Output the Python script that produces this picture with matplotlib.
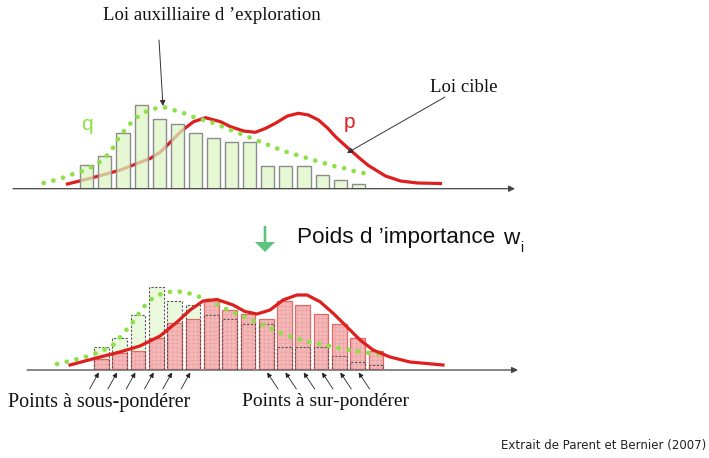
import matplotlib.pyplot as plt
from matplotlib.patches import FancyArrow

W, H = 709, 458

# histogram of draws from the exploration law q (16 bins)
q_bars = [23.5, 32.5, 55.5, 83.5, 69.5, 65, 55.5, 51, 46.5, 46.5, 23, 23, 23, 14, 8.5, 5]
# same bins after importance weighting
w_bars = [11, 17.5, 19, 32.5, 47, 51.5, 70.5, 60.5, 56, 51, 69, 65, 56, 46.5, 32, 19]

# curves (x in bin units, height)
q_top_x = [-2.38, -1.73, -1.18, -0.62, -0.07, 0.48, 0.92, 1.31, 1.59, 1.86, 2.25, 2.58, 3.08,
           3.63, 4.24, 4.79, 5.34, 5.90, 6.45, 7.00, 7.55, 8.10, 8.66, 9.21, 9.76, 10.31,
           10.87, 11.42, 11.97, 12.52, 13.08, 13.63, 14.18, 14.73, 15.29, 15.67]
q_top_h = [5.7, 8.7, 11.7, 15.7, 18.7, 23.7, 29.7, 36.7, 45.7, 53.7, 61.7, 68.7, 75.7,
           79.7, 81.7, 78.7, 75.7, 71.7, 68.7, 65.7, 61.7, 57.7, 53.7, 49.7, 45.7, 41.7,
           37.7, 34.7, 31.7, 28.7, 25.7, 22.7, 20.7, 17.7, 15.7, 14.7]
p_top_x = [-1.07, 0.20, 1.86, 3.52, 4.07, 4.46, 5.18, 5.90, 6.56, 7.39, 7.94, 8.66, 9.31,
           9.86, 10.42, 11.08, 11.69, 12.24, 12.80, 13.30, 13.74, 14.18, 14.66, 15.12,
           15.56, 16.50, 17.33, 18.27, 19.54]
p_top_h = [4.7, 10.4, 18.7, 30.4, 36.7, 43.7, 57, 67, 71, 67, 62, 57.7, 56.4,
           60.2, 65.4, 72.7, 75.4, 73.7, 68.7, 60.7, 52, 44.7, 37, 29.7,
           23.2, 12.7, 7.7, 5.7, 5.2]
q_bot_x = [-2.43, -1.72, -0.90, -0.08, 0.63, 1.17, 1.72, 2.21, 2.65, 3.36, 4.02, 4.73, 5.38,
           6.04, 6.58, 7.19, 8.01, 8.83, 9.59, 10.46, 11.28, 12.21, 13.03, 13.90, 14.78, 15.65]
q_bot_h = [6, 9, 13, 18, 25, 36, 48, 61, 70, 77, 79, 77, 73,
           68, 63, 58, 51.5, 45, 38.3, 32.7, 28.3, 25, 21.7, 19, 16.7, 15]
p_bot_x = [-1.72, -0.90, -0.08, 1.01, 2.10, 3.20, 4.13, 4.84, 5.55, 6.31, 7.19, 7.84, 8.50,
           9.21, 9.92, 10.68, 11.23, 11.94, 12.66, 13.42, 14.13, 14.84, 15.77, 16.86, 18.66]
p_bot_h = [5, 9, 13, 18, 24, 34, 48, 60, 69, 70.5, 65, 58.5, 56,
           60, 70, 75, 75, 68.3, 56.7, 43, 30, 20, 13, 8, 5]

under_bins = [0, 1, 2, 3, 4, 5]
over_bins = [9, 10, 11, 12, 13, 14]

RED = '#de1f1f'
GREEN = '#8ee04a'
serif = 'Liberation Serif'

plt.rcParams['hatch.linewidth'] = 0.3

fig = plt.figure(figsize=(W / 100, H / 100), dpi=100)


def panel(x0, x1, base, center0, pitch):
    ax = fig.add_axes([x0 / W, (H - base) / H, (x1 - x0) / W, 110 / H])
    ax.set_xlim((x0 - center0) / pitch, (x1 - center0) / pitch)
    ax.set_ylim(0, 110)
    ax.axis('off')
    ax.annotate('', xy=(ax.get_xlim()[1], 0), xytext=(ax.get_xlim()[0], 0),
                arrowprops=dict(arrowstyle='-|>', color='#444444', lw=0.9,
                                mutation_scale=9, shrinkA=0, shrinkB=0),
                annotation_clip=False)
    return ax


def dotted(ax, x, y, z):
    ax.plot(x, y, color=GREEN, lw=3.4, linestyle=(0, (0.01, 2.1)),
            dash_capstyle='round', zorder=z, clip_on=False)


bins = list(range(len(q_bars)))

# ---- top: samples from q
ax1 = panel(13, 515, 188.7, 86.8, 18.1)
ax1.plot(p_top_x, p_top_h, color=RED, lw=2.3, zorder=1, clip_on=False)
ax1.bar(bins, q_bars, width=0.72, color=(0.86, 0.96, 0.76, 0.72),
        edgecolor='#8c8c8c', lw=1.0, zorder=2)
dotted(ax1, q_top_x, q_top_h, 3)

# ---- bottom: weighted samples
ax2 = panel(27, 518, 370, 101.5, 18.3)
ax2.bar(bins, q_bars, width=0.8, color='#eaf8dc', lw=0, zorder=1)
ax2.bar(bins, w_bars, width=0.8, color='#f4b8b8', edgecolor='#e89898',
        hatch='++++', lw=0, zorder=2)
ax2.bar(bins, w_bars, width=0.8, fill=False, edgecolor='#e06a6a', lw=0.9, zorder=3)
ax2.bar(bins, q_bars, width=0.8, fill=False, edgecolor='#555555', lw=0.8,
        linestyle=(0, (2, 1.5)), zorder=4)
dotted(ax2, q_bot_x, q_bot_h, 5)
ax2.plot(p_bot_x, p_bot_h, color=RED, lw=2.3, zorder=6, clip_on=False)

small_arrow = dict(arrowstyle='-|>', color='#222222', lw=0.6, mutation_scale=7,
                   shrinkA=0, shrinkB=0)
for i in under_bins:
    ax2.annotate('', xy=(i - 0.15, -2.5), xytext=(i - 0.65, -19),
                 arrowprops=small_arrow, annotation_clip=False)
for i in over_bins:
    ax2.annotate('', xy=(i + 0.05, -2.5), xytext=(i + 0.65, -19),
                 arrowprops=small_arrow, annotation_clip=False)

# ---- overlay in pixel coordinates for labels
ov = fig.add_axes([0, 0, 1, 1])
ov.set_xlim(0, W)
ov.set_ylim(H, 0)
ov.axis('off')

thin = dict(arrowstyle='-|>', color='#333333', lw=0.7, mutation_scale=8,
            shrinkA=0, shrinkB=0)
ov.text(212, 15, 'Loi auxilliaire d \u2019exploration', family=serif, fontsize=13.5,
        ha='center', va='center', color='#111111')
ov.annotate('', xy=(163, 106), xytext=(159, 40), arrowprops=thin)
ov.text(430, 88, 'Loi cible', family=serif, fontsize=13.5, ha='left', va='center',
        color='#111111')
ov.annotate('', xy=(347, 153), xytext=(445, 97), arrowprops=thin)
ov.text(87, 125, 'q', fontsize=15, color=GREEN, ha='center', va='center',
        family='Liberation Sans')
ov.text(349, 122, 'p', fontsize=15, color=RED, ha='center', va='center',
        family='Liberation Sans')

ov.add_patch(FancyArrow(265, 226, 0, 26, width=2.6, head_width=20, head_length=10,
                        length_includes_head=True, color='#5cc27c', lw=0))
ov.text(297, 237, 'Poids d \u2019importance', family='Liberation Sans', fontsize=16.2,
        ha='left', va='center', color='#111111')
ov.text(503, 239, 'w', family='Liberation Sans', fontsize=16.2, ha='left',
        va='center', color='#111111')
ov.text(520, 248, 'i', family='Liberation Sans', fontsize=10, ha='left',
        va='center', color='#111111')

ov.text(8, 402, 'Points \u00e0 sous-pond\u00e9rer', family=serif, fontsize=14.4,
        ha='left', va='center', color='#111111')
ov.text(242, 402, 'Points \u00e0 sur-pond\u00e9rer', family=serif, fontsize=14,
        ha='left', va='center', color='#111111')

ov.text(706, 445, 'Extrait de Parent et Bernier (2007)', fontsize=8.5,
        ha='right', va='center', color='#222222')

fig.savefig('out.png', dpi=100)
